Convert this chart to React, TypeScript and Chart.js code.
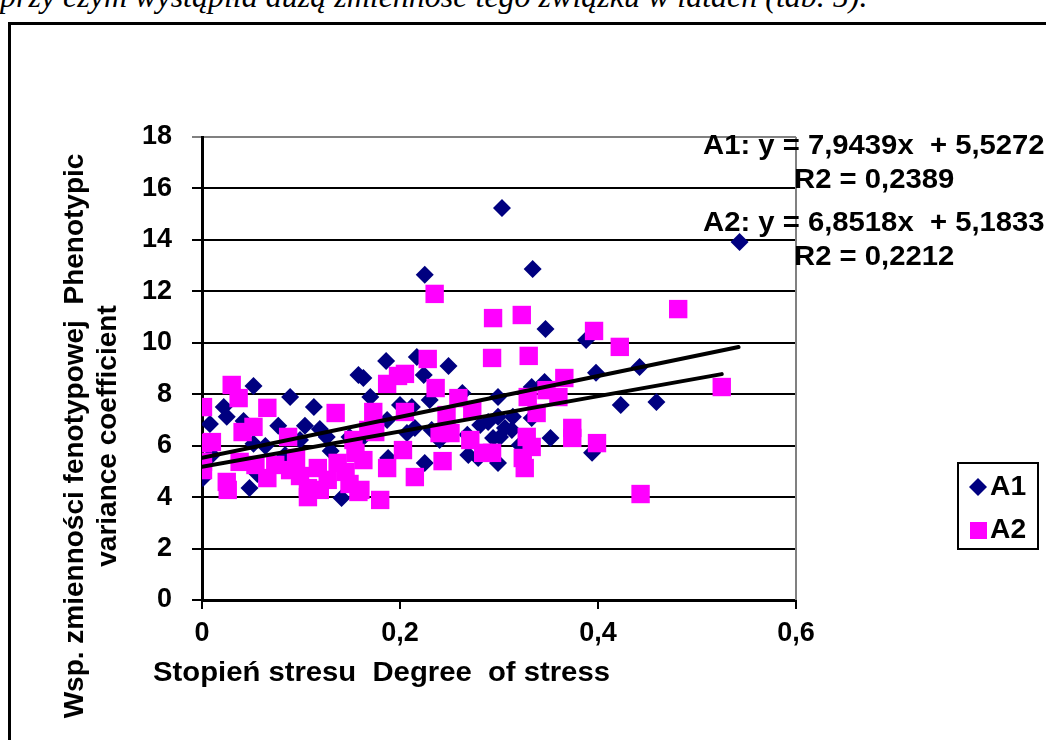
import React, { useEffect, useRef } from "react";
import { Chart, registerables } from "chart.js";
Chart.register(...registerables);

// ---- data ----
const seriesNames = ["A1", "A2"];

const a1X = [0.543, 0.303, 0.334, 0.225, 0.347, 0.388, 0.398, 0.442, 0.423, 0.459, 0.394, 0.299, 0.333, 0.346, 0.289, 0.299, 0.314, 0.333, 0.313, 0.294, 0.301, 0.352, 0.299, 0.186, 0.217, 0.163, 0.158, 0.224, 0.249, 0.170, 0.212, 0.230, 0.263, 0.187, 0.207, 0.215, 0.232, 0.268, 0.188, 0.225, 0.269, 0.141, 0.149, 0.052, 0.089, 0.022, 0.113, 0.025, 0.008, 0.042, 0.077, 0.104, 0.119, 0.052, 0.064, 0.126, 0.130, 0.001, 0.048, 0.056, 0.200, 0.160, 0.240, 0.279, 0.084, 0.099, 0.010, 0.281, 0.321, 0.306];
const a1Y = [13.92, 15.24, 12.87, 12.64, 10.54, 10.11, 8.83, 9.06, 7.58, 7.70, 5.72, 7.89, 8.28, 8.48, 6.92, 7.12, 7.12, 7.08, 6.61, 6.30, 6.34, 6.30, 5.33, 9.29, 9.45, 8.63, 8.75, 8.75, 9.10, 7.89, 7.50, 7.78, 8.05, 7.00, 6.49, 6.69, 6.61, 6.42, 5.52, 5.33, 5.64, 3.97, 6.34, 8.32, 7.89, 7.50, 7.50, 7.12, 6.84, 6.96, 6.77, 6.77, 6.65, 6.07, 5.99, 6.34, 5.79, 4.74, 4.35, 4.90, 7.58, 6.22, 6.22, 5.52, 5.64, 6.22, 5.64, 6.80, 6.03, 6.69];

const a2X = [0.235, 0.294, 0.323, 0.481, 0.396, 0.422, 0.293, 0.330, 0.366, 0.348, 0.360, 0.329, 0.338, 0.525, 0.374, 0.374, 0.399, 0.328, 0.333, 0.293, 0.284, 0.324, 0.326, 0.443, 0.228, 0.198, 0.187, 0.205, 0.236, 0.259, 0.273, 0.247, 0.173, 0.205, 0.135, 0.175, 0.240, 0.251, 0.153, 0.155, 0.163, 0.203, 0.187, 0.215, 0.243, 0.160, 0.180, 0.030, 0.037, 0.001, 0.066, 0.052, 0.041, 0.087, 0.001, 0.010, 0.001, 0.025, 0.026, 0.066, 0.107, 0.107, 0.158, 0.001, 0.054, 0.074, 0.089, 0.099, 0.117, 0.127, 0.137, 0.145, 0.149, 0.119, 0.168, 0.038, 0.271, 0.095];
const a2Y = [11.90, 10.96, 11.08, 11.31, 10.46, 9.84, 9.41, 9.49, 8.63, 8.16, 7.89, 7.89, 7.27, 8.28, 6.69, 6.30, 6.10, 6.34, 5.95, 5.72, 5.72, 5.52, 5.13, 4.12, 9.37, 8.71, 8.40, 8.79, 8.24, 7.85, 7.39, 7.19, 7.31, 7.31, 7.27, 6.53, 6.49, 6.49, 6.22, 5.72, 5.44, 5.83, 5.13, 4.78, 5.40, 4.28, 3.89, 8.36, 7.85, 7.50, 7.47, 6.73, 6.53, 6.34, 6.10, 6.14, 5.37, 4.59, 4.28, 4.74, 4.00, 4.35, 4.20, 5.05, 5.25, 5.25, 5.05, 4.82, 5.13, 4.67, 5.33, 4.98, 4.51, 4.28, 6.61, 5.37, 6.22, 5.52];

// trend lines (from the equations shown on the chart)
const trendSlopes = [7.9439, 6.8518];
const trendIntercepts = [5.5272, 5.1833];
const trendXMax = [0.542, 0.525];

const xTicks = [0, 0.2, 0.4, 0.6];
const yTicks = [0, 2, 4, 6, 8, 10, 12, 14, 16, 18];

const equationLabels = ["A1: y = 7,9439x  + 5,5272", "R2 = 0,2389", "A2: y = 6,8518x  + 5,1833", "R2 = 0,2212"];
const xTitle = "Stopień stresu  Degree  of stress";
const yTitleLines = ["Wsp. zmienności fenotypowej  Phenotypic", "variance coefficient"];
const headerText = "przy czym wystąpiła dużą zmienność tego związku w latach (tab. 5).";

const NAVY = "#000080";
const MAGENTA = "#FF00FF";
const FONT = '"Liberation Sans", Arial, sans-serif';
const STRETCH = 1.045;

const toPoints = (xs: number[], ys: number[]) => xs.map((x, i) => ({ x, y: ys[i] }));
const trendPoints = (i: number) => [
  { x: 0, y: trendIntercepts[i] },
  { x: trendXMax[i], y: trendIntercepts[i] + trendSlopes[i] * trendXMax[i] },
];

function stretchedText(ctx: any, text: string, x: number, y: number) {
  ctx.save();
  ctx.translate(x, y);
  ctx.scale(STRETCH, 1);
  ctx.fillText(text, 0, 0);
  ctx.restore();
}

const textPlugin = {
  id: "textPlugin",
  beforeDatasetsDraw(chart: any) {
    const ctx = chart.ctx;
    const ca = chart.chartArea;
    ctx.save();
    // right plot border
    ctx.strokeStyle = "#808080";
    ctx.lineWidth = 2;
    ctx.beginPath();
    ctx.moveTo(ca.right, ca.top);
    ctx.lineTo(ca.right, ca.bottom);
    ctx.stroke();
    // equations
    ctx.fillStyle = "#000";
    ctx.font = `bold 28px ${FONT}`;
    ctx.textBaseline = "middle";
    ctx.textAlign = "left";
    stretchedText(ctx, equationLabels[0], 703, 146);
    stretchedText(ctx, equationLabels[1], 794, 180);
    stretchedText(ctx, equationLabels[2], 703, 223);
    stretchedText(ctx, equationLabels[3], 794, 257);
    // axis titles
    stretchedText(ctx, xTitle, 153, 673);
    ctx.textAlign = "center";
    ctx.save();
    ctx.translate(75, 436);
    ctx.rotate(-Math.PI / 2);
    ctx.fillText(yTitleLines[0], 0, 0);
    ctx.restore();
    ctx.save();
    ctx.translate(108, 436);
    ctx.rotate(-Math.PI / 2);
    ctx.fillText(yTitleLines[1], 0, 0);
    ctx.restore();
    ctx.restore();
  },
  afterDraw(chart: any) {
    const ctx = chart.ctx;
    ctx.save();
    // legend box
    ctx.strokeStyle = "#000";
    ctx.lineWidth = 2;
    ctx.strokeRect(958, 463, 80, 86);
    // diamond
    ctx.fillStyle = NAVY;
    ctx.beginPath();
    ctx.moveTo(969, 487);
    ctx.lineTo(978, 478);
    ctx.lineTo(987, 487);
    ctx.lineTo(978, 496);
    ctx.closePath();
    ctx.fill();
    // square
    ctx.fillStyle = MAGENTA;
    ctx.fillRect(970, 522, 17, 17);
    ctx.fillStyle = "#000";
    ctx.font = `bold 27px ${FONT}`;
    ctx.textBaseline = "middle";
    ctx.textAlign = "left";
    stretchedText(ctx, seriesNames[0], 990, 488);
    stretchedText(ctx, seriesNames[1], 990, 531);
    ctx.restore();
  },
};

export default function App() {
  const ref = useRef<HTMLCanvasElement>(null);
  useEffect(() => {
    const chart = new Chart(ref.current as HTMLCanvasElement, {
      type: "scatter",
      data: {
        datasets: [
          {
            type: "line",
            label: "trendA1",
            data: trendPoints(0),
            borderColor: "#000",
            borderWidth: 4,
            pointRadius: 0,
            borderCapStyle: "round",
            showLine: true,
            fill: false,
            order: 0,
          } as any,
          {
            type: "line",
            label: "trendA2",
            data: trendPoints(1),
            borderColor: "#000",
            borderWidth: 4,
            pointRadius: 0,
            borderCapStyle: "round",
            showLine: true,
            fill: false,
            order: 0,
          } as any,
          {
            label: seriesNames[1],
            data: toPoints(a2X, a2Y),
            pointStyle: "rect",
            pointRadius: 13,
            backgroundColor: MAGENTA,
            borderColor: MAGENTA,
            borderWidth: 0,
            order: 1,
          },
          {
            label: seriesNames[0],
            data: toPoints(a1X, a1Y),
            pointStyle: "rectRot",
            pointRadius: 9,
            backgroundColor: NAVY,
            borderColor: NAVY,
            borderWidth: 0,
            order: 2,
          },
        ],
      },
      options: {
        responsive: false,
        animation: false,
        layout: { padding: { top: 137, right: 250, left: 0, bottom: 0 } },
        plugins: { legend: { display: false }, tooltip: { enabled: false } },
        scales: {
          x: {
            type: "linear",
            min: 0,
            max: 0.6,
            afterBuildTicks: (s: any) => {
              s.ticks = xTicks.map((v) => ({ value: v }));
            },
            afterFit: (s: any) => {
              s.height = 140;
            },
            grid: { drawOnChartArea: false, drawTicks: true, tickLength: 9, color: "#000", lineWidth: 2 },
            border: { color: "#000", width: 3 },
            ticks: {
              color: "#000",
              font: { family: FONT, size: 27, weight: "bold" },
              padding: 8,
              maxRotation: 0,
              autoSkip: false,
              callback: (v: any) => String(Math.round(v * 10) / 10).replace(".", ","),
            },
          },
          y: {
            type: "linear",
            min: 0,
            max: 18,
            afterBuildTicks: (s: any) => {
              s.ticks = yTicks.map((v) => ({ value: v }));
            },
            afterFit: (s: any) => {
              s.width = 202;
            },
            grid: {
              color: (c: any) => (c.tick && c.tick.value === 18 ? "#808080" : "#000"),
              lineWidth: 2,
              tickLength: 10,
              drawTicks: true,
            },
            border: { color: "#000", width: 3 },
            ticks: {
              color: "#000",
              font: { family: FONT, size: 27, weight: "bold" },
              padding: 20,
              autoSkip: false,
            },
          },
        },
      } as any,
      plugins: [textPlugin],
    });
    return () => chart.destroy();
  }, []);

  return (
    <div style={{ position: "fixed", left: 0, top: 0, width: 1046, height: 740, overflow: "hidden", background: "#fff" }}>
      <div
        style={{
          position: "absolute",
          left: 0,
          top: -18,
          fontFamily: '"Liberation Serif", "Times New Roman", serif',
          fontStyle: "italic",
          fontSize: 32,
          lineHeight: "28px",
          whiteSpace: "nowrap",
          color: "#000",
        }}
      >
        {headerText}
      </div>
      <div
        style={{
          position: "absolute",
          left: 8,
          top: 22,
          width: 2000,
          height: 2000,
          borderLeft: "3px solid #000",
          borderTop: "3px solid #000",
        }}
      />
      <canvas ref={ref} width={1046} height={740} style={{ position: "absolute", left: 0, top: 0, width: 1046, height: 740 }} />
    </div>
  );
}
